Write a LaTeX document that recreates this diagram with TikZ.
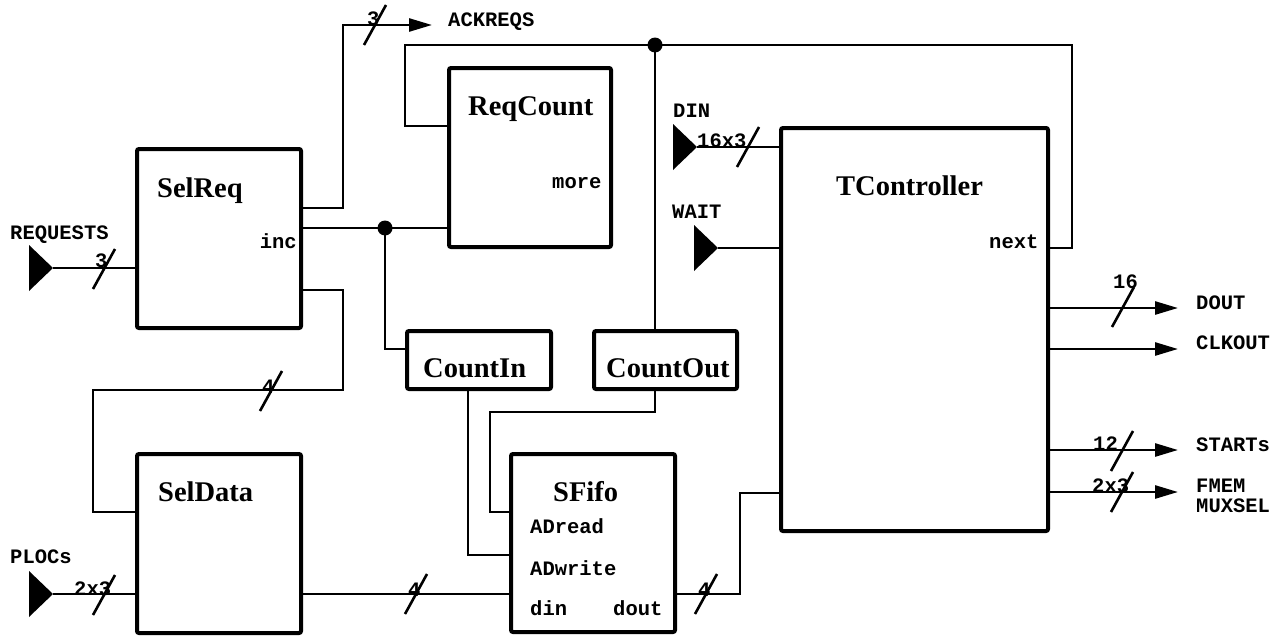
\documentclass[tikz,border=0pt]{standalone}
\usepackage{fontspec}
\setmainfont{Liberation Serif}
\newfontfamily\monofam{Liberation Mono}
\usetikzlibrary{arrows.meta}
\begin{document}
\begin{tikzpicture}[x=1pt,y=-1pt,
  blk/.style={draw,line width=4pt,rounded corners=2pt,inner sep=0pt},
  wire/.style={line width=2.6pt},
  ttl/.style={font=\bfseries\fontsize{28.5}{30}\selectfont,inner sep=0pt},
  lbl/.style={font=\monofam\bfseries\fontsize{20.5}{22}\selectfont,inner sep=0pt},
  outarrow/.style={wire,-{Triangle[length=23pt,width=13pt]}},
  port/.style={fill=black}]
\useasboundingbox (0,0) rectangle (1285,637);
\newcommand\busmark[2]{\draw[wire] (#1,#2) ++(-11,20) -- ++(22,-40);}
% blocks
\node[blk,minimum width=164pt,minimum height=179pt] (selreq) at (219,238.5) {};
\node[blk,minimum width=164pt,minimum height=179pt] (seldata) at (219,543.5) {};
\node[blk,minimum width=162pt,minimum height=179pt] (reqcount) at (530,157.5) {};
\node[blk,minimum width=267pt,minimum height=403pt] (tc) at (914.5,329.5) {};
\node[blk,minimum width=144pt,minimum height=58pt] (countin) at (479,360) {};
\node[blk,minimum width=143pt,minimum height=58pt] (countout) at (665.5,360) {};
\node[blk,minimum width=164pt,minimum height=178pt] (sfifo) at (593,543) {};
% titles
\node[ttl,anchor=base west] (tselreq) at (157,197) {SelReq};
\node[ttl,anchor=base west] (tseldata) at (158,501) {SelData};
\node[ttl,anchor=base west] (treqcount) at (468,115) {ReqCount};
\node[ttl,anchor=base west] (ttc) at (836,195) {TController};
\node[ttl,anchor=base west] (tcountin) at (423,377) {CountIn};
\node[ttl,anchor=base west] (tcountout) at (606,377) {CountOut};
\node[ttl,anchor=base west] (tsfifo) at (553,501) {SFifo};
% port labels
\node[lbl,anchor=base east] (pinc) at (297,248) {inc};
\node[lbl,anchor=base west] (pmore) at (552,188) {more};
\node[lbl,anchor=base west] (pnext) at (989,248) {next};
\node[lbl,anchor=base west] (padread) at (530,533) {ADread};
\node[lbl,anchor=base west] (padwrite) at (530,575) {ADwrite};
\node[lbl,anchor=base west] (pdin) at (530,615) {din};
\node[lbl,anchor=base west] (pdout) at (613,615) {dout};
% signal names
\node[lbl,anchor=base west] (nreq) at (10,239) {REQUESTS};
\node[lbl,anchor=base west] (nack) at (448,26) {ACKREQS};
\node[lbl,anchor=base west] (ndin) at (673,117) {DIN};
\node[lbl,anchor=base west] (nwait) at (672,218) {WAIT};
\node[lbl,anchor=base west] (nplocs) at (10,563) {PLOCs};
\node[lbl,anchor=base west] (ndout) at (1196,309) {DOUT};
\node[lbl,anchor=base west] (nclk) at (1196,349) {CLKOUT};
\node[lbl,anchor=base west] (nstarts) at (1196,451) {STARTs};
\node[lbl,anchor=base west] (nfmem) at (1196,492) {FMEM};
\node[lbl,anchor=base west] (nmux) at (1196,512) {MUXSEL};
% input ports
\coordinate (reqin) at (53,268);
\coordinate (plocin) at (53,594);
\coordinate (dinin) at (697,147);
\coordinate (waitin) at (718,248);
\foreach \p in {reqin,plocin,dinin,waitin}
  \fill[port] (\p) -- ++(-24,-23) -- ++(0,46) -- cycle;
% junctions and ends
\coordinate (j1) at (385,228);
\coordinate (j2) at (655,45);
\coordinate (ackend) at (432,25);
\coordinate (doutend) at (1178,308);
\coordinate (clkend) at (1178,349);
\coordinate (startend) at (1178,450);
\coordinate (fmemend) at (1178,492);
% wires
\draw[wire] (reqin) -- (selreq.west |- reqin);
\draw[outarrow] (selreq.east |- 0,208) -| (343,25) -- (ackend);
\draw[wire] (selreq.east |- 0,228) -- (reqcount.west |- 0,228);
\draw[wire] (j1) |- (countin.west |- 0,349);
\draw[wire] (selreq.east |- 0,290) -| (343,390) -| (93,512) -- (seldata.west |- 0,512);
\draw[wire] (plocin) -- (seldata.west |- plocin);
\draw[wire] (seldata.east |- 0,594) -- (sfifo.west |- 0,594);
\draw[wire] (sfifo.east |- 0,594) -| (740,493) -- (tc.west |- 0,493);
\draw[wire] (countin.south -| 468,0) |- (sfifo.west |- 0,555);
\draw[wire] (countout.south -| 655,0) -- (655,412) -| (490,512) -- (sfifo.west |- 0,512);
\draw[wire] (reqcount.west |- 0,126) -| (405,45) -- (1072,45) |- (tc.east |- 0,248);
\draw[wire] (j2) -- (countout.north -| j2);
\draw[wire] (dinin) -- (tc.west |- dinin);
\draw[wire] (waitin) -- (tc.west |- waitin);
\draw[outarrow] (tc.east |- doutend) -- (doutend);
\draw[outarrow] (tc.east |- clkend) -- (clkend);
\draw[outarrow] (tc.east |- startend) -- (startend);
\draw[outarrow] (tc.east |- fmemend) -- (fmemend);
\fill (j1) circle[radius=7.5pt];
\fill (j2) circle[radius=7.5pt];
% bus marks
\busmark{104}{269}
\busmark{375}{25}
\busmark{271}{391}
\busmark{104}{595}
\busmark{416}{594}
\busmark{706}{594}
\busmark{748}{147}
\busmark{1123}{307}
\busmark{1122}{451}
\busmark{1122}{492}
\node[lbl,anchor=base west] (w1) at (95,267) {3};
\node[lbl,anchor=base west] (w2) at (367,25) {3};
\node[lbl,anchor=base west] (w3) at (262,393) {4};
\node[lbl,anchor=base west] (w4) at (74,595) {2x3};
\node[lbl,anchor=base west] (w5) at (408,596) {4};
\node[lbl,anchor=base west] (w6) at (698,596) {4};
\node[lbl,anchor=base west] (w7) at (697,147) {16x3};
\node[lbl,anchor=base west] (w8) at (1113,288) {16};
\node[lbl,anchor=base west] (w9) at (1093,450) {12};
\node[lbl,anchor=base west] (w10) at (1092,492) {2x3};
\end{tikzpicture}
\end{document}
